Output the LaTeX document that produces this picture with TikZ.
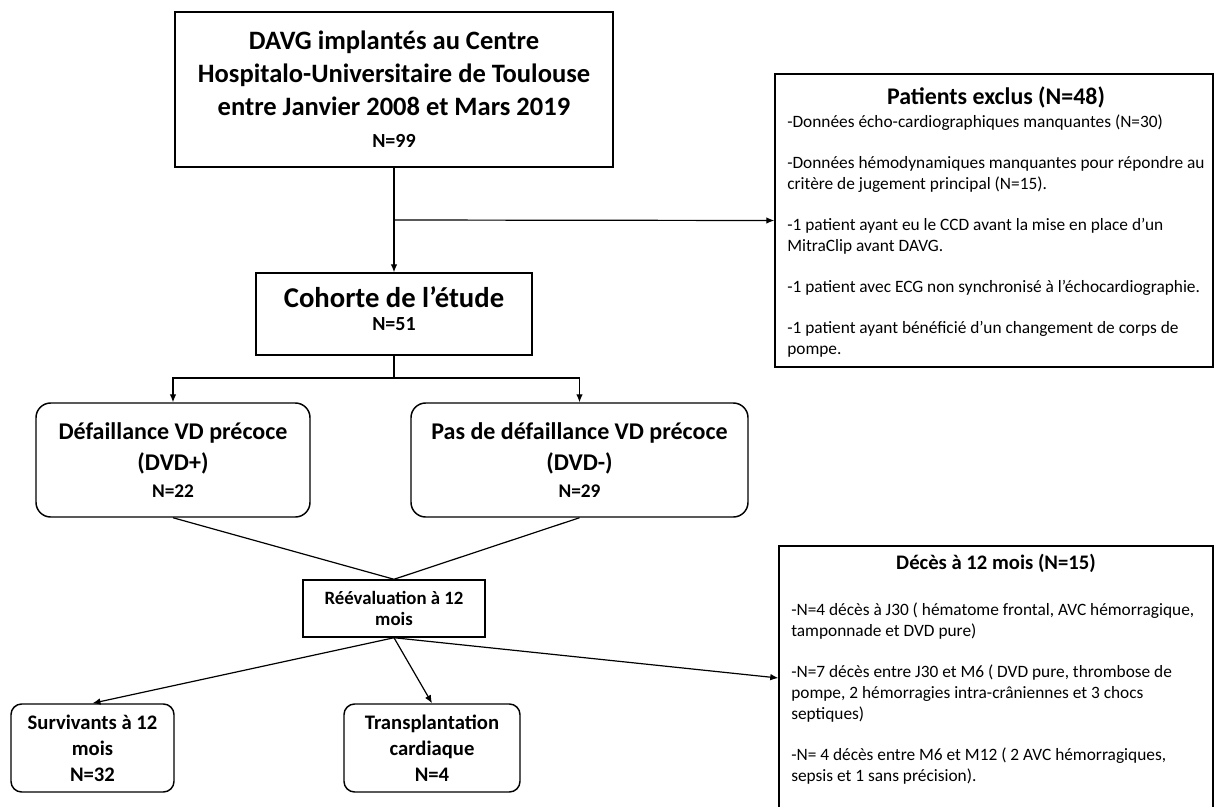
\documentclass[tikz,border=0pt]{standalone}
\usepackage{fontspec}
\setmainfont{Carlito}
\usetikzlibrary{arrows.meta}
\tikzset{
  box/.style={draw,line width=1.1pt,inner sep=0pt,align=center},
  rbox/.style={box,rounded corners=11pt},
  line/.style={line width=0.9pt},
  arr/.style={line,-{Latex[length=6pt,width=5pt]}},
  body/.style={inner sep=0pt,align=left,anchor=north west,font=\fontsize{13}{15.75}\selectfont}
}
\newcommand{\nsize}[1]{{\fontsize{15}{18}\selectfont #1}}

\begin{document}
\begin{tikzpicture}[x=0.75pt,y=-0.75pt]
\useasboundingbox (0,0) rectangle (1215,807);
% main column
\node[box,minimum width=328.5pt,minimum height=116.25pt,
  font=\fontsize{19.9}{24.75}\selectfont\bfseries] (top) at (394,89.5)
  {DAVG implantés au Centre\\
   Hospitalo-Universitaire de Toulouse\\
   entre Janvier 2008 et Mars 2019\\[-0.75pt]
   \nsize{N=99}};
\node[box,minimum width=207pt,minimum height=61.5pt,text depth=7.7pt,
  font=\fontsize{21.5}{20}\selectfont\bfseries] (coh) at (394,314)
  {Cohorte de l’étude\\[-3pt]
   \nsize{N=51}};
\node[rbox,minimum width=205.5pt,minimum height=85.5pt,
  font=\fontsize{18}{23}\selectfont\bfseries] (dvdp) at (173,460)
  {Défaillance VD précoce\\
   (DVD+)\\[-3pt]
   {\fontsize{14.5}{18}\selectfont N=22}};
\node[rbox,minimum width=252.75pt,minimum height=85.5pt,
  font=\fontsize{18}{23}\selectfont\bfseries] (dvdm) at (579.5,460)
  {Pas de défaillance VD précoce\\
   (DVD-)\\[-3pt]
   {\fontsize{14.5}{18}\selectfont N=29}};
\node[box,minimum width=136.5pt,minimum height=42.75pt,
  font=\fontsize{14.1}{15.75}\selectfont\bfseries] (reev) at (394,608.5)
  {Réévaluation à 12\\
   mois};
\node[rbox,rounded corners=8pt,minimum width=122.25pt,minimum height=66pt,
  font=\fontsize{15.5}{19.5}\selectfont\bfseries] (surv) at (92.5,748)
  {Survivants à 12\\
   mois\\
   N=32};
\node[rbox,rounded corners=8pt,minimum width=132pt,minimum height=66pt,
  font=\fontsize{15.5}{19.5}\selectfont\bfseries] (greffe) at (432,748)
  {Transplantation\\
   cardiaque\\
   N=4};

% side boxes
\node[box,minimum width=328.5pt,minimum height=219.75pt] (excl) at (994,220.5) {};
\node[font=\fontsize{17.9}{20}\selectfont\bfseries] (exclT) at (996,97) {Patients exclus (N=48)};
\node[body] (exclB) at (787,115) {-Données écho-cardiographiques manquantes (N=30)\\[15pt]
  -Données hémodynamiques manquantes pour répondre au\\
  critère de jugement principal (N=15).\\[15pt]
  -1 patient ayant eu le CCD avant la mise en place d’un\\
  MitraClip avant DAVG.\\[15pt]
  -1 patient avec ECG non synchronisé à l’échocardiographie.\\[15pt]
  -1 patient ayant bénéficié d’un changement de corps de\\
  pompe.};
\node[box,minimum width=325.5pt,minimum height=198pt] (deces) at (996,678) {};
\node[font=\fontsize{15.5}{18}\selectfont\bfseries] (decesT) at (996,563) {Décès à 12 mois (N=15)};
\node[body] (decesB) at (791,603) {-N=4 décès à J30 ( hématome frontal, AVC hémorragique,\\
  tamponnade et DVD pure)\\[15pt]
  -N=7 décès entre J30 et M6 ( DVD pure, thrombose de\\
  pompe, 2 hémorragies intra-crâniennes et 3 chocs\\
  septiques)\\[15pt]
  -N= 4 décès entre M6 et M12 ( 2 AVC hémorragiques,\\
  sepsis et 1 sans précision).};

% connectors
\coordinate (split) at (394,220);
\coordinate (fork) at (394,378);
\draw[arr] (top) -- (coh);
\draw[arr] (split) -- (excl.west);
\draw[line] (coh) -- (fork);
\draw[arr] (fork) -| (dvdp.north);
\draw[arr] (fork) -| (dvdm.north);
\draw[line] (dvdp.south) -- (reev.north);
\draw[line] (dvdm.south) -- (reev.north);
\draw[arr] (reev.south) -- (surv.north);
\draw[arr] (reev.south) -- (greffe.north);
\draw[arr] (reev.south) -- (deces.west);
\end{tikzpicture}
\end{document}
